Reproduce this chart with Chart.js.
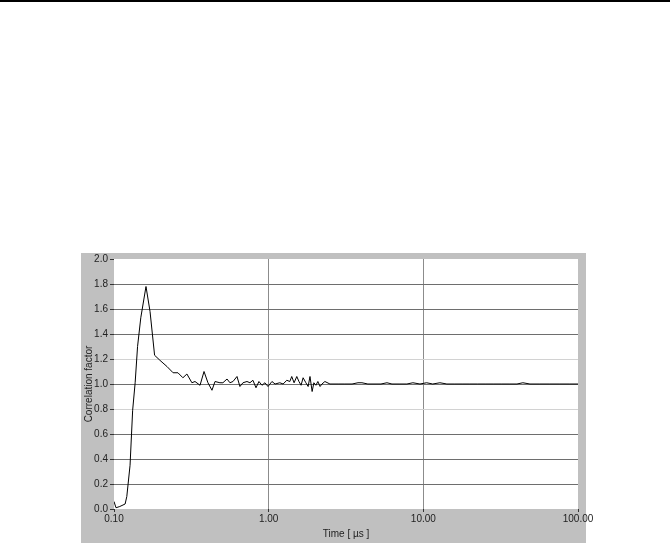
<!DOCTYPE html>
<html>
<head>
<meta charset="utf-8">
<script src="https://cdn.jsdelivr.net/npm/chart.js@4"></script>
<style>
  html, body { margin: 0; padding: 0; background: #fff; }
  #wrap { width: 670px; height: 543px; }
</style>
</head>
<body>
<div id="wrap"><canvas id="corrChart" width="670" height="543"></canvas></div>
<script>
// Lag times [µs] and correlation values
var lagTimes = [0.100, 0.103, 0.109, 0.118, 0.121, 0.127, 0.132, 0.137, 0.142, 0.149,
    0.161, 0.171, 0.183, 0.198, 0.220, 0.241, 0.259, 0.279, 0.296, 0.319,
    0.334, 0.360, 0.382, 0.405, 0.430, 0.450, 0.484, 0.506, 0.538, 0.562,
    0.588, 0.624, 0.652, 0.682, 0.724, 0.757, 0.791, 0.828, 0.865, 0.905,
    0.946, 0.990, 1.05, 1.10, 1.18, 1.24, 1.31, 1.37, 1.41, 1.46,
    1.52, 1.57, 1.62, 1.67, 1.74, 1.80, 1.85, 1.91, 1.96, 2.02,
    2.08, 2.15, 2.21, 2.31, 2.49, 2.81, 3.11, 3.46, 3.78, 4.01,
    4.38, 4.87, 5.32, 5.82, 6.27, 7.06, 7.83, 8.56, 9.51, 10.5,
    11.5, 12.8, 14.2, 16.0, 17.8, 20.0, 22.5, 25.4, 28.6, 32.2,
    36.3, 40.3, 44.0, 48.9, 56.7, 65.8, 76.4, 88.6, 100];
var correlation = [0.06, 0.01, 0.02, 0.04, 0.10, 0.35, 0.79, 1.01, 1.30, 1.53,
    1.78, 1.58, 1.23, 1.19, 1.14, 1.09, 1.09, 1.05, 1.08, 1.01,
    1.02, 0.99, 1.10, 1.01, 0.95, 1.02, 1.01, 1.01, 1.04, 1.01,
    1.02, 1.06, 0.98, 1.01, 1.02, 1.01, 1.03, 0.97, 1.02, 0.99,
    1.01, 0.98, 1.02, 1.00, 1.01, 1.00, 1.03, 1.02, 1.06, 1.01,
    1.06, 1.02, 0.99, 1.05, 1.01, 0.98, 1.06, 0.94, 1.01, 0.99,
    1.02, 0.98, 1.00, 1.02, 1.00, 1.00, 1.00, 1.00, 1.01, 1.01,
    1.00, 1.00, 1.00, 1.01, 1.00, 1.00, 1.00, 1.01, 1.00, 1.01,
    1.00, 1.01, 1.00, 1.00, 1.00, 1.00, 1.00, 1.00, 1.00, 1.00,
    1.00, 1.00, 1.01, 1.00, 1.00, 1.00, 1.00, 1.00, 1.00];
var xTickValues = [0.1, 1, 10, 100];
var yTickValues = [0.0, 0.2, 0.4, 0.6, 0.8, 1.0, 1.2, 1.4, 1.6, 1.8, 2.0];

var points = lagTimes.map(function (t, i) { return { x: t, y: correlation[i] }; });

// grey panel, white plot area and the rule at the top of the page
var panelPlugin = {
    id: 'panel',
    beforeDraw: function (chart) {
        var c = chart.ctx, a = chart.chartArea;
        c.save();
        c.fillStyle = '#000';
        c.fillRect(0, 0, 670, 2);
        c.fillStyle = '#c0c0c0';
        c.fillRect(81, 253, 505, 290);
        c.fillStyle = '#fff';
        c.fillRect(a.left, a.top, a.right - a.left, a.bottom - a.top);
        c.restore();
    }
};

var fontSpec = { family: '"Liberation Sans", Arial, sans-serif', size: 10 };

var ctx = document.getElementById('corrChart').getContext('2d');
var myChart = new Chart(ctx, {
    type: 'line',
    data: {
        datasets: [{
            data: points,
            borderColor: '#000',
            borderWidth: 1,
            pointRadius: 0,
            fill: false,
            tension: 0
        }]
    },
    options: {
        responsive: false,
        animation: false,
        layout: { padding: { left: 81, right: 92, top: 259, bottom: 0 } },
        plugins: { legend: { display: false }, tooltip: { enabled: false } },
        scales: {
            x: {
                type: 'logarithmic',
                min: 0.1,
                max: 100,
                afterBuildTicks: function (scale) {
                    scale.ticks = xTickValues.map(function (v) { return { value: v }; });
                },
                afterFit: function (scale) { scale.height = 34; },
                border: { display: false },
                grid: {
                    color: function (c) {
                        var v = c.tick ? c.tick.value : 0;
                        return (v === 1 || v === 10) ? '#8c8c8c' : 'rgba(0,0,0,0)';
                    },
                    tickColor: '#333',
                    tickLength: 3
                },
                ticks: {
                    autoSkip: false,
                    maxRotation: 0,
                    padding: 1,
                    color: '#222',
                    font: fontSpec,
                    callback: function (v) { return Number(v).toFixed(2); }
                },
                title: { display: true, text: 'Time [ µs ]', color: '#222', font: fontSpec, padding: 3 }
            },
            y: {
                min: 0,
                max: 2,
                afterBuildTicks: function (scale) {
                    scale.ticks = yTickValues.map(function (v) { return { value: v }; });
                },
                afterFit: function (scale) { scale.width = 33; },
                border: { display: false },
                grid: {
                    color: function (c) {
                        var v = c.tick ? Math.round(c.tick.value * 10) / 10 : 0;
                        if (v === 0 || v === 2) return 'rgba(0,0,0,0)';
                        if (v === 0.8 || v === 1.2) return '#d2d2d2';
                        return '#6e6e6e';
                    },
                    tickColor: '#333',
                    tickLength: 4
                },
                ticks: {
                    autoSkip: false,
                    padding: 2,
                    color: '#222',
                    font: fontSpec,
                    callback: function (v) { return Number(v).toFixed(1); }
                },
                title: { display: true, text: 'Correlation factor', color: '#222', font: fontSpec, padding: 2 }
            }
        }
    },
    plugins: [panelPlugin]
});
</script>
</body>
</html>
